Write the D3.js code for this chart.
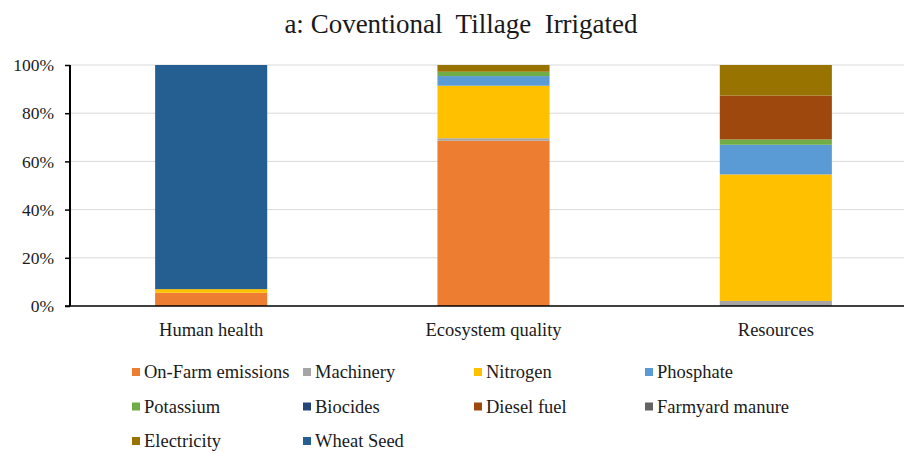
<html>
<script src='https://d3js.org/d3.v7.min.js'></script>
<style>
body {margin: 0; background: white;}
text {font-family: 'Liberation Serif', 'Times New Roman', serif; fill: #1a1a1a;}
</style>
<body>
<svg width=904 height=453></svg>
<script>

// categories and stacked shares (percent of each impact category)
var categories = ["Human health", "Ecosystem quality", "Resources"];
var seriesNames = ["On-Farm emissions", "Machinery", "Nitrogen", "Phosphate", "Potassium",
                   "Biocides", "Diesel fuel", "Farmyard manure", "Electricity", "Wheat Seed"];
var seriesColors = ["#ED7D31", "#A5A5A5", "#FFC000", "#5B9BD5", "#70AD47",
                    "#264478", "#9E480E", "#636363", "#997300", "#255E91"];

var onFarm     = [5.5, 68.6, 0.0];
var machinery  = [0.0, 1.0, 2.1];
var nitrogen   = [1.5, 21.8, 52.5];
var phosphate  = [0.0, 4.0, 12.3];
var potassium  = [0.0, 1.8, 2.2];
var biocides   = [0.0, 0.0, 0.0];
var diesel     = [0.0, 0.0, 18.2];
var farmyard   = [0.0, 0.0, 0.0];
var electricity = [0.0, 2.8, 12.7];
var wheatSeed  = [93.0, 0.0, 0.0];

var yTicks = [0, 20, 40, 60, 80, 100];

var allSeries = [onFarm, machinery, nitrogen, phosphate, potassium,
                 biocides, diesel, farmyard, electricity, wheatSeed];

// table for d3.stack
var rows = categories.map(function(c, i) {
    var r = {cat: c};
    seriesNames.forEach(function(s, j) { r[s] = allSeries[j][i]; });
    return r;
});

var svg = d3.select("svg");

var x = d3.scaleBand()
    .domain(categories)
    .range([70, 917])
    .paddingInner(0.603)
    .paddingOuter(0.3015);

var y = d3.scaleLinear()
    .domain([0, 100])
    .range([306, 65]);

// gridlines
svg.append("g")
  .selectAll("line")
  .data(yTicks.filter(function(d) { return d > 0; }))
  .enter().append("line")
    .attr("x1", 70)
    .attr("x2", 904)
    .attr("y1", function(d) { return y(d); })
    .attr("y2", function(d) { return y(d); })
    .style("stroke", "#d9d9d9")
    .style("stroke-width", 1);

// stacked bars
var stacked = d3.stack().keys(seriesNames)(rows);

svg.append("g")
  .selectAll("g")
  .data(stacked)
  .enter().append("g")
    .attr("fill", function(d, i) { return seriesColors[i]; })
  .selectAll("rect")
  .data(function(d) { return d; })
  .enter().append("rect")
    .attr("x", function(d) { return x(d.data.cat); })
    .attr("width", x.bandwidth())
    .attr("y", function(d) { return y(d[1]); })
    .attr("height", function(d) { return y(d[0]) - y(d[1]); });

// Y axis
var yAxis = svg.append("g")
    .attr("transform", "translate(70,0)")
    .call(d3.axisLeft(y).tickValues(yTicks).tickSize(5).tickPadding(11)
        .tickFormat(function(d) { return d + "%"; }));
yAxis.select(".domain").attr("stroke", "#000").attr("stroke-width", 2).attr("d", "M0,65V306");
yAxis.selectAll(".tick line").attr("stroke", "#000").attr("stroke-width", 1.5);
yAxis.selectAll("text").style("font-size", "17.5px").style("font-family", "'Liberation Serif', serif");

// X axis
var xAxis = svg.append("g")
    .attr("transform", "translate(0,306)")
    .call(d3.axisBottom(x).tickSize(0).tickPadding(17));
xAxis.select(".domain").attr("stroke", "#000").attr("stroke-width", 1.5).attr("d", "M65,0H904");
xAxis.selectAll("text").style("font-size", "18.5px").style("font-family", "'Liberation Serif', serif");

// title
svg.append("text")
    .text("a: Coventional  Tillage  Irrigated")
    .attr("x", 461)
    .attr("y", 33)
    .attr("text-anchor", "middle")
    .style("white-space", "pre")
    .style("font-size", "27px");

// legend
var legendCols = 4;
var legend = svg.append("g")
  .selectAll("g")
  .data(seriesNames)
  .enter().append("g")
    .attr("transform", function(d, i) {
        return "translate(" + (132 + (i % legendCols) * 171) + "," + (372 + Math.floor(i / legendCols) * 34.5) + ")";
    });

legend.append("rect")
    .attr("x", 0)
    .attr("y", -4)
    .attr("width", 8)
    .attr("height", 8)
    .attr("fill", function(d, i) { return seriesColors[i]; });

legend.append("text")
    .text(function(d) { return d; })
    .attr("x", 12)
    .attr("y", 6)
    .style("font-size", "18.5px");

</script>
</body>
</html>
